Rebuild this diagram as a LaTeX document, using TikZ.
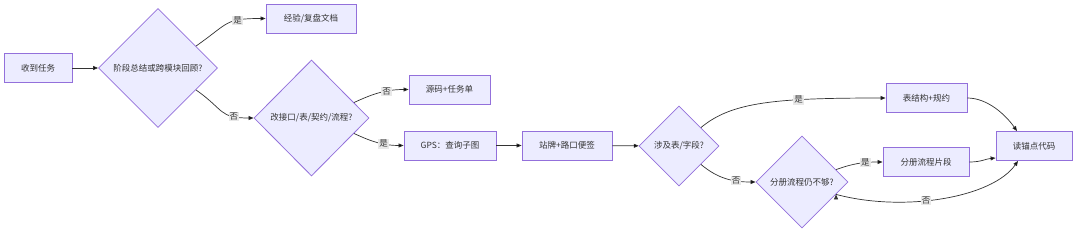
\documentclass[tikz,border=0pt]{standalone}
\usepackage{fontspec}
\setmainfont{Noto Sans CJK SC}
\usetikzlibrary{shapes.geometric,arrows.meta,positioning}
\definecolor{nodefill}{HTML}{ECECFF}
\definecolor{nodeline}{HTML}{9370DB}
\definecolor{edgeline}{HTML}{333333}
\definecolor{lblfill}{HTML}{E8E8E8}
\definecolor{txt}{HTML}{333333}

\begin{document}
\begin{tikzpicture}[x=1pt,y=-1pt,>={Triangle[length=5pt,width=4pt]},
  every node/.style={font=\fontsize{8.5}{10}\selectfont,text=txt},
  box/.style={draw=nodeline,fill=nodefill,line width=0.8pt,minimum height=29pt,inner sep=2pt},
  ask/.style={diamond,draw=nodeline,fill=nodefill,line width=0.8pt,inner sep=0pt,aspect=1},
  lbl/.style={fill=lblfill,inner sep=1pt},
  flow/.style={->,draw=edgeline,line width=0.7pt}]
  \useasboundingbox (0,0) rectangle (1080,234);

  \node[box,minimum width=68pt] (t0) at (38,68) {收到任务};
  \node[ask,minimum width=119pt,minimum height=119pt] (q1) at (158,68) {阶段总结或跨模块回顾?};
  \node[box,minimum width=90pt] (doc) at (311,18.5) {经验/复盘文档};
  \node[ask,minimum width=115pt,minimum height=116pt] (q2) at (311.5,118) {改接口/表/契约/流程?};
  \node[box,minimum width=81pt] (src) at (449.5,89.5) {源码+任务单};
  \node[box,minimum width=92pt] (gps) at (450,145.5) {GPS：查询子图};
  \node[box,minimum width=90pt] (tag) at (567,145.5) {站牌+路口便签};
  \node[ask,minimum width=80pt,minimum height=80pt] (q3) at (679,146) {涉及表/字段?};
  \node[box,minimum width=81pt] (tbl) at (926.5,98) {表结构+规约};
  \node[ask,minimum width=92pt,minimum height=92pt] (q4) at (802,182) {分册流程仍不够?};
  \node[box,minimum width=86pt] (seg) at (926,162) {分册流程片段};
  \node[box,minimum width=76pt] (code) at (1034,146) {读锚点代码};

  \path[flow]
    (t0) edge (q1)
    (q1.30) edge[out=35,in=180,looseness=1.4] node[lbl,pos=0.68] {是} (doc)
    (q1.-30) edge[out=-35,in=180,looseness=1.4] node[lbl,pos=0.75] {否} (q2)
    (q2.20) edge[out=25,in=180] node[lbl,pos=0.62] {否} (src)
    (q2.-20) edge[out=-25,in=180] node[lbl,pos=0.62] {是} (gps)
    (gps) edge (tag)
    (tag) edge (q3)
    (q3.40) edge[out=40,in=180,out distance=40pt,in distance=110pt] node[lbl,pos=0.68] {是} (tbl)
    (q3.-40) edge[out=-40,in=180] node[lbl,pos=0.68] {否} (q4)
    (q4.20) edge[out=20,in=180] node[lbl,pos=0.65] {是} (seg)
    (q4.-20) edge[out=-15,in=-125,out distance=70pt,in distance=45pt] node[lbl,pos=0.42] {否} ([xshift=-16pt]code.south)
    (tbl) edge[out=0,in=125,out distance=20pt,in distance=20pt] ([xshift=-17pt]code.north)
    (seg) edge[out=0,in=185,out distance=12pt,in distance=10pt] ([yshift=-12pt]code.west);
\end{tikzpicture}
\end{document}
